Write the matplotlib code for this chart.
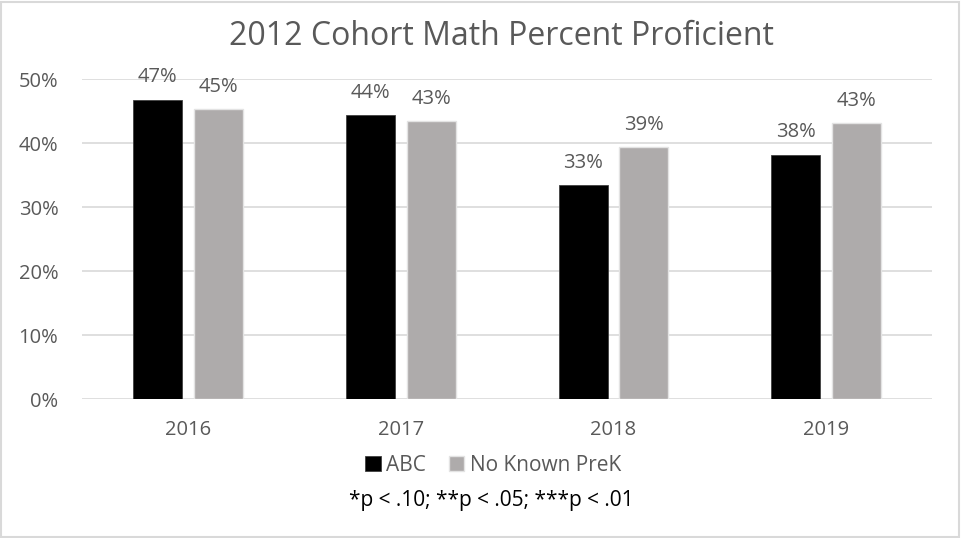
import numpy as np
import matplotlib.pyplot as plt
from matplotlib.patches import Rectangle

# veriler
years = ["2016", "2017", "2018", "2019"]
abc = [46.8, 44.4, 33.4, 38.2]
no_prek = [45.3, 43.4, 39.4, 43.1]
series_names = ["ABC", "No Known PreK"]
footnote = "*p < .10; **p < .05; ***p < .01"

plt.rcParams['font.family'] = ['Open Sans', 'DejaVu Sans']
txt = '#595959'
grid_c = '#D9D9D9'

fig = plt.figure(figsize=(9.61, 5.38), dpi=100)
ax = fig.add_axes([0.0853, 0.258, 0.885, 0.595])

x = np.arange(len(years))
w = 0.23
off = 0.143
b1 = ax.bar(x - off, abc, w, color='black', edgecolor='#404040', linewidth=0.6, label=series_names[0], zorder=3)
b2 = ax.bar(x + off, no_prek, w, color='#AEABAB', edgecolor='#E3E3E3', linewidth=1.0, label=series_names[1], zorder=3)

# bar ustu etiketler
for bars, vals in [(b1, abc), (b2, no_prek)]:
    for r, v in zip(bars, vals):
        ax.annotate(f"{round(v)}%", (r.get_x() + r.get_width() / 2, v), xytext=(0, 12.5),
                    textcoords='offset points', ha='center', va='baseline', fontsize=14.5, color=txt)

ax.set_xlim(-0.5, len(years) - 0.5)
ax.set_ylim(0, 50)
ax.set_yticks(range(0, 51, 10))
ax.set_yticklabels([f"{t}%" for t in range(0, 51, 10)])
ax.set_xticks(x)
ax.set_xticklabels(years)
ax.tick_params(axis='both', length=0, labelsize=14.5, labelcolor=txt)
ax.tick_params(axis='x', pad=15)
ax.tick_params(axis='y', pad=17)
ax.yaxis.grid(True, color=grid_c, linewidth=1.2, zorder=0)
for s in ax.spines.values():
    s.set_visible(False)

fig.suptitle("2012 Cohort Math Percent Proficient", x=0.522, y=0.962, fontsize=23, color=txt)

fig.legend(handles=[b1, b2], loc='center', bbox_to_anchor=(0.513, 0.135), ncol=2, frameon=False,
           fontsize=15, labelcolor=txt, handlelength=0.75, handleheight=0.75, handletextpad=0.25,
           columnspacing=1.1)
fig.text(0.511, 0.07, footnote, ha='center', va='center', fontsize=15, color='black')

fig.patches.append(Rectangle((0.001, 0.001), 0.997, 0.996, transform=fig.transFigure,
                             fill=False, edgecolor=grid_c, linewidth=1.5))

plt.savefig("out.png", dpi=100)
